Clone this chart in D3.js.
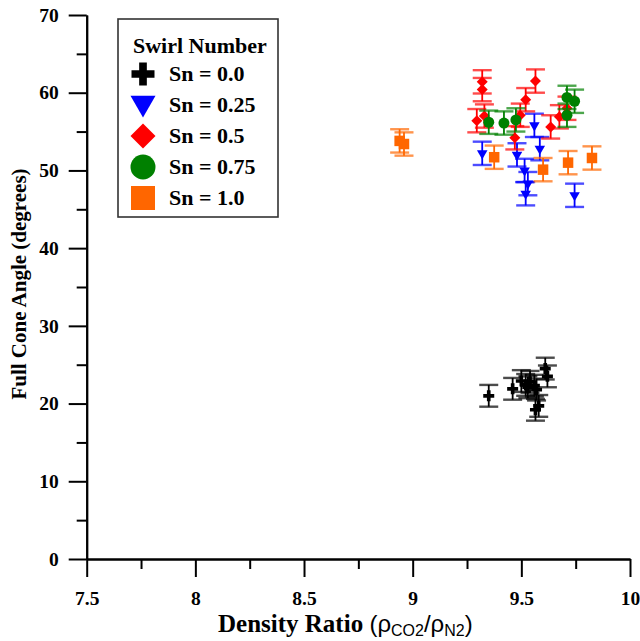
<!DOCTYPE html>
<html>
<head>
<meta charset="utf-8">
<script src="https://cdn.jsdelivr.net/npm/d3@7"></script>
<style>
  html, body { margin: 0; padding: 0; background: #fff; }
  svg { display: block; }
  .serif { font-family: "Liberation Serif", "DejaVu Serif", serif; font-weight: bold; }
  .sans { font-family: "Liberation Sans", Arial, sans-serif; font-weight: normal; }
</style>
</head>
<body>
<svg id="chart" width="640" height="641"></svg>
<script>
// Full cone angle vs. density ratio, one series per swirl number
const seriesNames = ["Sn = 0.0", "Sn = 0.25", "Sn = 0.5", "Sn = 0.75", "Sn = 1.0"];
const seriesColors = ["#000000", "#0000ff", "#ff0000", "#008000", "#ff6600"];
const seriesShapes = ["cross", "triangleDown", "diamond", "circle", "square"];
const seriesError = [1.4, 1.5, 1.5, 1.5, 1.5]; // +/- degrees

const sn0X = [9.35, 9.46, 9.50, 9.52, 9.53, 9.54, 9.56, 9.57, 9.565, 9.58, 9.61, 9.62];
const sn0Y = [21.0, 21.9, 22.9, 22.4, 22.1, 22.8, 22.3, 21.8, 19.2, 19.7, 24.5, 23.5];

const sn025X = [9.32, 9.48, 9.515, 9.53, 9.52, 9.56, 9.585, 9.745];
const sn025Y = [52.2, 52.0, 50.0, 48.3, 47.0, 55.8, 52.8, 46.8];

const sn05X = [9.32, 9.32, 9.295, 9.33, 9.47, 9.495, 9.52, 9.565, 9.635, 9.675, 9.71];
const sn05Y = [61.4, 60.4, 56.4, 57.0, 54.2, 57.1, 59.1, 61.5, 55.6, 56.9, 58.0];

const sn075X = [9.35, 9.42, 9.475, 9.71, 9.745, 9.71];
const sn075Y = [56.2, 56.1, 56.5, 59.4, 58.9, 57.1];

const sn1X = [8.94, 8.96, 9.375, 9.60, 9.715, 9.825];
const sn1Y = [53.8, 53.4, 51.7, 50.1, 51.0, 51.6];

const xMajorTicks = [7.5, 8, 8.5, 9, 9.5, 10];
const xMinorTicks = [7.75, 8.25, 8.75, 9.25, 9.75];
const yMajorTicks = [0, 10, 20, 30, 40, 50, 60, 70];
const yMinorTicks = [5, 15, 25, 35, 45, 55, 65];

const seriesX = [sn0X, sn025X, sn05X, sn075X, sn1X];
const seriesY = [sn0Y, sn025Y, sn05Y, sn075Y, sn1Y];

const svg = d3.select("#chart");
const x = d3.scaleLinear().domain([7.5, 10]).range([86.7, 630]);
const y = d3.scaleLinear().domain([0, 70]).range([559, 15]);

// marker path generators; s = overall marker width in px
function markerPath(shape, s) {
  switch (shape) {
    case "cross": return d3.symbol(d3.symbolCross, 5 * Math.pow(s / 3, 2))();
    case "triangleDown": return d3.symbol(d3.symbolTriangle, Math.sqrt(3) / 4 * s * s)();
    case "diamond": return d3.symbol(d3.symbolSquare, s * s / 2)();
    case "circle": return d3.symbol(d3.symbolCircle, Math.PI * s * s / 4)();
    case "square": return d3.symbol(d3.symbolSquare, s * s)();
  }
}
function markerRotate(shape) {
  if (shape === "triangleDown") return 180;
  if (shape === "diamond") return 45;
  return 0;
}
const markerSize = { cross: 11, triangleDown: 10.5, diamond: 11, circle: 11, square: 10.5 };
const legendSize = { cross: 23, triangleDown: 25, diamond: 25, circle: 25, square: 24 };

// axes: long major ticks with labels, short minor ticks
const axisG = svg.append("g");
const xMinor = d3.axisBottom(x).tickValues(xMinorTicks).tickSize(10).tickSizeOuter(0).tickFormat("");
const xMajor = d3.axisBottom(x).tickValues(xMajorTicks).tickSize(18).tickSizeOuter(0).tickPadding(14)
  .tickFormat(d => d3.format("")(d));
const yMinor = d3.axisLeft(y).tickValues(yMinorTicks).tickSize(10).tickSizeOuter(0).tickFormat("");
const yMajor = d3.axisLeft(y).tickValues(yMajorTicks).tickSize(18).tickSizeOuter(0).tickPadding(10);

axisG.append("g").attr("transform", `translate(0,${y(0)})`).call(xMinor);
axisG.append("g").attr("transform", `translate(0,${y(0)})`).call(xMajor);
axisG.append("g").attr("transform", `translate(${x(7.5)},0)`).call(yMinor);
axisG.append("g").attr("transform", `translate(${x(7.5)},0)`).call(yMajor);

axisG.selectAll(".domain, .tick line").attr("stroke", "#000").attr("stroke-width", 2);
axisG.selectAll(".tick text")
  .attr("class", "serif")
  .attr("font-size", 19.5)
  .attr("fill", "#000");

// axis titles
const xt = svg.append("text").attr("x", 218).attr("y", 632).attr("fill", "#000").attr("font-size", 25);
xt.append("tspan").attr("class", "serif").text("Density Ratio ");
xt.append("tspan").attr("class", "sans").attr("font-size", 24).text("(ρ");
xt.append("tspan").attr("class", "sans").attr("font-size", 16).attr("dy", 3.5).text("CO2");
xt.append("tspan").attr("class", "sans").attr("font-size", 24).attr("dy", -3.5).text("/ρ");
xt.append("tspan").attr("class", "sans").attr("font-size", 16).attr("dy", 3.5).text("N2");
xt.append("tspan").attr("class", "sans").attr("font-size", 24).attr("dy", -3.5).text(")");

svg.append("text")
  .attr("class", "serif")
  .attr("transform", "translate(26,284) rotate(-90)")
  .attr("text-anchor", "middle")
  .attr("font-size", 21)
  .attr("fill", "#000")
  .text("Full Cone Angle (degrees)");

// data: error bars then markers, series drawn in legend order
const capHalf = 9.5;
seriesNames.forEach((name, si) => {
  const color = seriesColors[si];
  const shape = seriesShapes[si];
  const err = seriesError[si];
  const pts = seriesX[si].map((vx, i) => ({ x: vx, y: seriesY[si][i] }));
  const g = svg.append("g");

  const eb = g.selectAll(".eb").data(pts).enter().append("g");
  eb.append("line")
    .attr("x1", d => x(d.x)).attr("x2", d => x(d.x))
    .attr("y1", d => y(d.y - err)).attr("y2", d => y(d.y + err))
    .attr("stroke", color).attr("stroke-width", 1.8);
  [-1, 1].forEach(sgn => {
    eb.append("line")
      .attr("x1", d => x(d.x) - capHalf).attr("x2", d => x(d.x) + capHalf)
      .attr("y1", d => y(d.y + sgn * err)).attr("y2", d => y(d.y + sgn * err))
      .attr("stroke", color).attr("stroke-width", 2.4).attr("stroke-opacity", 0.7);
  });

  g.selectAll(".m").data(pts).enter().append("path")
    .attr("d", markerPath(shape, markerSize[shape]))
    .attr("transform", d => `translate(${x(d.x)},${y(d.y)}) rotate(${markerRotate(shape)})`)
    .attr("fill", color);
});

// legend
const lg = svg.append("g");
lg.append("rect").attr("x", 118).attr("y", 19).attr("width", 160).attr("height", 198)
  .attr("fill", "#fff").attr("stroke", "#333").attr("stroke-width", 1.6);
lg.append("text").attr("class", "serif").attr("x", 133).attr("y", 53)
  .attr("font-size", 22).attr("fill", "#000").text("Swirl Number");
seriesNames.forEach((name, i) => {
  const cy = 74 + i * 31;
  const shape = seriesShapes[i];
  lg.append("path")
    .attr("d", markerPath(shape, legendSize[shape]))
    .attr("transform", `translate(143,${cy + (shape === "triangleDown" ? -2 : 0)}) rotate(${markerRotate(shape)})`)
    .attr("fill", seriesColors[i]);
  lg.append("text").attr("class", "serif").attr("x", 169).attr("y", cy + 7)
    .attr("font-size", 22).attr("fill", "#000").text(name);
});
</script>
</body>
</html>
